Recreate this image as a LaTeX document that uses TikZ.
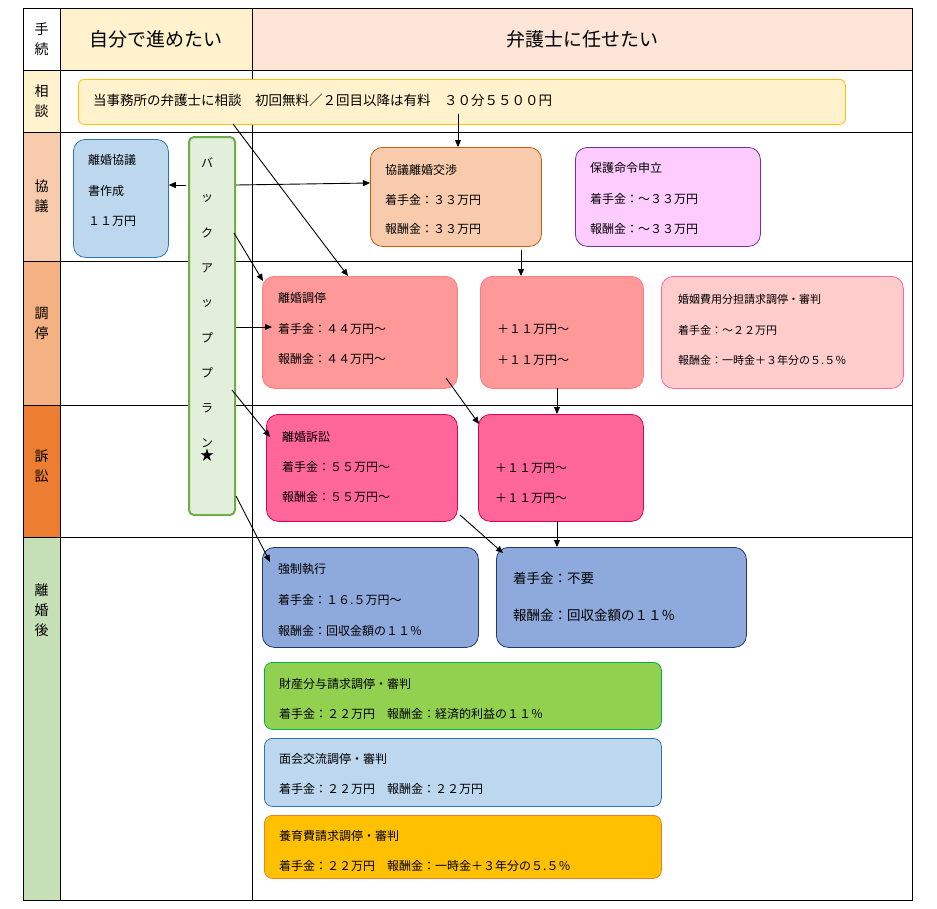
\documentclass[tikz,border=0pt]{standalone}
\usepackage{fontspec}
\setmainfont{Noto Sans CJK JP}
\usetikzlibrary{arrows.meta}
\begin{document}
\begin{tikzpicture}[x=1pt,y=-1pt,
 bx/.style={draw,rounded corners=12pt,line width=0.8pt,anchor=north west,inner sep=0pt},
 tx/.style={anchor=west,font=\fontsize{12}{14}\selectfont,inner sep=0pt},
 lab/.style={font=\fontsize{14}{16}\selectfont,align=center},
 ar/.style={-{Triangle[length=7pt,width=6pt]},line width=0.9pt}]
\useasboundingbox (0,0) rectangle (937,908);
% table fills
\fill[white] (23,8) rectangle (60,70);
\fill[yellow!20!white,fill={rgb,255:red,255;green,242;blue,204}] (23,70) rectangle (60,132);
\fill[fill={rgb,255:red,248;green,203;blue,173}] (23,132) rectangle (60,261);
\fill[fill={rgb,255:red,244;green,177;blue,131}] (23,261) rectangle (60,405);
\fill[fill={rgb,255:red,237;green,125;blue,49}] (23,405) rectangle (60,537);
\fill[fill={rgb,255:red,197;green,224;blue,180}] (23,537) rectangle (60,900);
\fill[fill={rgb,255:red,255;green,242;blue,204}] (60,8) rectangle (252,70);
\fill[fill={rgb,255:red,252;green,228;blue,214}] (252,8) rectangle (912,70);
\draw[line width=0.8pt] (23,8) rectangle (912,900);
\foreach \y in {70,132,261,405,537} \draw[line width=0.8pt] (23,\y) -- (912,\y);
\draw[line width=0.8pt] (60,8) -- (60,900);
\draw[line width=0.8pt] (252,8) -- (252,900);
% labels
\node[lab] (l1) at (41.5,39) {手\\[4pt]続};
\node[lab] (l2) at (41.5,101) {相\\[4pt]談};
\node[lab] (l3) at (41.5,196) {協\\[4pt]議};
\node[lab] (l4) at (41.5,323) {調\\[4pt]停};
\node[lab] (l5) at (41.5,466) {訴\\[4pt]訟};
\node[lab] (l6) at (41.5,610) {離\\[4pt]婚\\[4pt]後};
\node[font=\fontsize{19}{22}\selectfont] (h1) at (156,39) {自分で進めたい};
\node[font=\fontsize{19}{22}\selectfont] (h2) at (582,39) {弁護士に任せたい};
% boxes
\node[bx,draw={rgb,255:red,255;green,192;blue,0},fill={rgb,255:red,255;green,242;blue,204},rounded corners=6pt,minimum width=767pt,minimum height=45pt] (cons) at (78,79) {};
\node[tx,font=\fontsize{13.5}{16}\selectfont] (consT) at (93,100) {当事務所の弁護士に相談　初回無料／２回目以降は有料　３０分５５００円};
\node[bx,draw={rgb,255:red,46;green,117;blue,182},fill={rgb,255:red,189;green,215;blue,238},minimum width=95pt,minimum height=118pt] (kyo) at (73,139) {};
\node[tx] at (88,160) {離婚協議};
\node[tx] at (88,191) {書作成};
\node[tx] at (88,221) {１１万円};
\node[bx,draw={rgb,255:red,112;green,173;blue,71},fill={rgb,255:red,226;green,239;blue,218},rounded corners=5pt,line width=2pt,minimum width=46pt,minimum height=378pt] (bk) at (188,136) {};
\foreach \c [count=\i] in {バ,ッ,ク,ア,ッ,プ,プ,ラ,ン}
  \node[font=\fontsize{12}{14}\selectfont] at (207,128+\i*35) {\c};
\node[font=\fontsize{14}{14}\selectfont] (star) at (207,455) {★};
\node[bx,draw={rgb,255:red,197;green,90;blue,17},fill={rgb,255:red,248;green,203;blue,173},minimum width=171pt,minimum height=99pt] (neg) at (370,147) {};
\node[tx] at (385,170) {協議離婚交渉};
\node[tx] at (385,200) {着手金：３３万円};
\node[tx] at (385,229) {報酬金：３３万円};
\node[bx,draw={rgb,255:red,112;green,48;blue,160},fill={rgb,255:red,255;green,204;blue,255},minimum width=185pt,minimum height=99pt] (hogo) at (575,147) {};
\node[tx] at (590,168) {保護命令申立};
\node[tx] at (590,199) {着手金：～３３万円};
\node[tx] at (590,229) {報酬金：～３３万円};
\node[bx,draw={rgb,255:red,255;green,124;blue,128},fill={rgb,255:red,255;green,153;blue,153},minimum width=195pt,minimum height=112pt] (cho) at (262,276) {};
\node[tx] at (278,298) {離婚調停};
\node[tx] at (278,329) {着手金：４４万円～};
\node[tx] at (278,359) {報酬金：４４万円～};
\node[bx,draw={rgb,255:red,255;green,124;blue,128},fill={rgb,255:red,255;green,153;blue,153},minimum width=163pt,minimum height=112pt] (cho2) at (480,276) {};
\node[tx] at (497,329) {＋１１万円～};
\node[tx] at (497,360) {＋１１万円～};
\node[bx,draw={rgb,255:red,255;green,102;blue,153},fill={rgb,255:red,255;green,204;blue,204},minimum width=242pt,minimum height=112pt] (kon) at (661,276) {};
\node[tx,font=\fontsize{11}{13}\selectfont] at (678,299) {婚姻費用分担請求調停・審判};
\node[tx,font=\fontsize{11}{13}\selectfont] at (678,330) {着手金：～２２万円};
\node[tx,font=\fontsize{11}{13}\selectfont] at (678,360) {報酬金：一時金＋３年分の５.５％};
\node[bx,draw={rgb,255:red,224;green,0;blue,80},fill={rgb,255:red,255;green,102;blue,153},minimum width=191pt,minimum height=107pt] (sosho) at (266,414) {};
\node[tx] at (282,437) {離婚訴訟};
\node[tx] at (282,467) {着手金：５５万円～};
\node[tx] at (282,497) {報酬金：５５万円～};
\node[bx,draw={rgb,255:red,224;green,0;blue,80},fill={rgb,255:red,255;green,102;blue,153},minimum width=165pt,minimum height=107pt] (sosho2) at (478,414) {};
\node[tx] at (495,468) {＋１１万円～};
\node[tx] at (495,498) {＋１１万円～};
\node[bx,draw={rgb,255:red,31;green,56;blue,100},fill={rgb,255:red,142;green,169;blue,219},minimum width=216pt,minimum height=100pt] (kyosei) at (262,547) {};
\node[tx] at (278,569) {強制執行};
\node[tx] at (278,600) {着手金：１６.５万円～};
\node[tx] at (278,631) {報酬金：回収金額の１１％};
\node[bx,draw={rgb,255:red,31;green,56;blue,100},fill={rgb,255:red,142;green,169;blue,219},minimum width=250pt,minimum height=100pt] (fuyo) at (496,547) {};
\node[tx,font=\fontsize{13.5}{16}\selectfont] at (513,578) {着手金：不要};
\node[tx,font=\fontsize{13.5}{16}\selectfont] at (513,615) {報酬金：回収金額の１１％};
\node[bx,rounded corners=8pt,draw={rgb,255:red,0;green,176;blue,80},fill={rgb,255:red,146;green,208;blue,80},minimum width=397pt,minimum height=67pt] (zai) at (264,662) {};
\node[tx] at (279,684) {財産分与請求調停・審判};
\node[tx] at (279,714) {着手金：２２万円　報酬金：経済的利益の１１％};
\node[bx,rounded corners=8pt,draw={rgb,255:red,46;green,117;blue,182},fill={rgb,255:red,189;green,215;blue,238},minimum width=397pt,minimum height=68pt] (men) at (264,738) {};
\node[tx] at (279,759) {面会交流調停・審判};
\node[tx] at (279,789) {着手金：２２万円　報酬金：２２万円};
\node[bx,rounded corners=8pt,draw={rgb,255:red,237;green,125;blue,49},fill={rgb,255:red,255;green,192;blue,0},minimum width=397pt,minimum height=63pt] (yoiku) at (264,815) {};
\node[tx] at (279,836) {養育費請求調停・審判};
\node[tx] at (279,866) {着手金：２２万円　報酬金：一時金＋３年分の５.５％};
% connectors
\coordinate (c1) at (458,114);
\coordinate (c2) at (233,124);
\draw[ar] (c1) -- (neg.north -| c1);
\draw[ar] (c2) -- (348,276);
\draw[ar] (236,185) -- (neg.west |- 0,183);
\draw[ar] (186,185) -- (kyo.east |- 0,185);
\draw[ar] (234,233) -- (263,281);
\draw[ar] (236,327) -- (272,327);
\draw[ar] (232,390) -- (270,437);
\draw[ar] (236,496) -- (270,562);
\draw[ar] (521,250) -- (cho2.north -| 521,0);
\draw[ar] (446,378) -- (479,424);
\draw[ar] (557,388) -- (sosho2.north -| 557,0);
\draw[ar] (460,515) -- (503,553);
\draw[ar] (557,521) -- (fuyo.north -| 557,0);
\end{tikzpicture}
\end{document}
